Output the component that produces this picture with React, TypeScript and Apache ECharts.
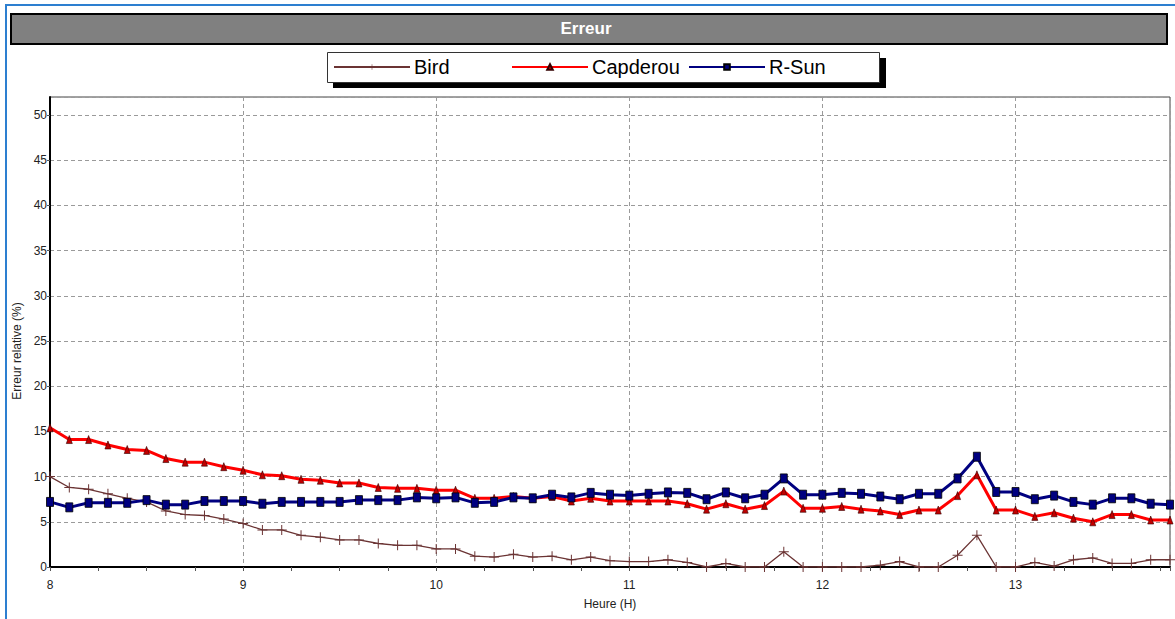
import React, { useEffect, useRef } from "react";
import * as echarts from "echarts";

const hours = [
  8.0, 8.1, 8.2, 8.3, 8.4, 8.5, 8.6, 8.7, 8.8, 8.9,
  9.0, 9.1, 9.2, 9.3, 9.4, 9.5, 9.6, 9.7, 9.8, 9.9,
  10.0, 10.1, 10.2, 10.3, 10.4, 10.5, 10.6, 10.7, 10.8, 10.9,
  11.0, 11.1, 11.2, 11.3, 11.4, 11.5, 11.6, 11.7, 11.8, 11.9,
  12.0, 12.1, 12.2, 12.3, 12.4, 12.5, 12.6, 12.7, 12.8, 12.9,
  13.0, 13.1, 13.2, 13.3, 13.4, 13.5, 13.6, 13.7, 13.8,
];

const bird = [
  10.0, 8.8, 8.6, 8.1, 7.6, 7.2, 6.2, 5.8, 5.7, 5.3,
  4.8, 4.1, 4.1, 3.5, 3.3, 3.0, 3.0, 2.6, 2.4, 2.4,
  2.0, 2.0, 1.2, 1.1, 1.4, 1.1, 1.2, 0.8, 1.1, 0.7,
  0.6, 0.6, 0.8, 0.5, 0.0, 0.4, 0.0, 0.0, 1.7, 0.0,
  0.0, 0.0, 0.0, 0.2, 0.6, 0.0, 0.0, 1.3, 3.5, 0.0,
  0.0, 0.5, 0.1, 0.8, 1.0, 0.4, 0.4, 0.8, 0.8,
];

const capderou = [
  15.4, 14.1, 14.1, 13.5, 13.0, 12.9, 12.0, 11.6, 11.6, 11.1,
  10.7, 10.2, 10.1, 9.7, 9.6, 9.3, 9.3, 8.8, 8.7, 8.7,
  8.5, 8.5, 7.6, 7.6, 7.8, 7.6, 7.8, 7.3, 7.6, 7.3,
  7.3, 7.3, 7.3, 7.0, 6.4, 7.0, 6.4, 6.8, 8.4, 6.5,
  6.5, 6.7, 6.4, 6.2, 5.8, 6.3, 6.3, 7.9, 10.2, 6.3,
  6.3, 5.6, 6.0, 5.4, 5.0, 5.8, 5.8, 5.2, 5.2,
];

const rsun = [
  7.2, 6.6, 7.1, 7.1, 7.1, 7.4, 6.9, 6.9, 7.3, 7.3,
  7.3, 7.0, 7.2, 7.2, 7.2, 7.2, 7.4, 7.4, 7.4, 7.7,
  7.6, 7.7, 7.1, 7.2, 7.7, 7.6, 8.0, 7.7, 8.2, 8.0,
  7.9, 8.1, 8.25, 8.2, 7.5, 8.25, 7.6, 8.0, 9.8, 8.0,
  8.0, 8.2, 8.1, 7.8, 7.5, 8.1, 8.1, 9.8, 12.2, 8.3,
  8.3, 7.5, 7.9, 7.2, 6.9, 7.6, 7.6, 7.0, 6.9,
];

const seriesNames = ["Bird", "Capderou", "R-Sun"];
const titleText = "Erreur";
const xAxisName = "Heure (H)";
const yAxisName = "Erreur relative (%)";

const FONT = "'Liberation Sans', Arial, sans-serif";
const PLUS =
  "path://M4.5,0 L5.5,0 L5.5,4.5 L10,4.5 L10,5.5 L5.5,5.5 L5.5,10 L4.5,10 L4.5,5.5 L0,5.5 L0,4.5 L4.5,4.5 Z";

function pair(ys: number[]) {
  return hours.map((h, i) => [h, ys[i]]);
}

export default function App() {
  const ref = useRef<HTMLDivElement>(null);

  useEffect(() => {
    if (!ref.current) return;
    const chart = echarts.init(ref.current, null, { renderer: "svg" });

    const legendCommon = {
      top: 57,
      padding: 0,
      itemWidth: 76,
      itemHeight: 7,
      itemGap: 0,
      selectedMode: false,
      textStyle: { fontSize: 20, color: "#000", fontFamily: FONT, lineHeight: 20, padding: [0, 0, 0, -1] },
    };

    chart.setOption({
      animation: false,
      backgroundColor: "#fff",
      title: {
        text: titleText,
        left: 586,
        textAlign: "center",
        top: 20,
        padding: 0,
        textStyle: { color: "#fff", fontSize: 17, fontWeight: "bold", fontFamily: FONT },
      },
      graphic: [
        {
          type: "rect",
          shape: { x: 6, y: 5, width: 1300, height: 800 },
          style: { fill: "none", stroke: "#2d7fd0", lineWidth: 2 },
          z: 0,
        },
        {
          type: "rect",
          shape: { x: 11, y: 14, width: 1156, height: 30 },
          style: { fill: "#808080", stroke: "#000", lineWidth: 2 },
          z: 0,
        },
        {
          type: "rect",
          shape: { x: 333, y: 58, width: 553, height: 30 },
          style: { fill: "#000" },
          z: 0,
        },
        {
          type: "rect",
          shape: { x: 327.5, y: 52.5, width: 552, height: 30 },
          style: { fill: "#fff", stroke: "#333", lineWidth: 1 },
          z: 0,
        },
      ],
      legend: [
        { ...legendCommon, left: 333, data: ["Bird"] },
        { ...legendCommon, left: 511, data: ["Capderou"] },
        { ...legendCommon, left: 688, data: ["R-Sun"] },
      ],
      grid: {
        left: 50,
        right: 5,
        top: 97,
        bottom: 52,
        show: true,
        borderColor: "#444",
        borderWidth: 1,
        backgroundColor: "transparent",
      },
      xAxis: {
        type: "value",
        min: 8,
        max: 13.8,
        interval: 1,
        name: xAxisName,
        nameLocation: "middle",
        nameGap: 31,
        nameTextStyle: { fontSize: 12, color: "#222", fontFamily: FONT },
        axisLine: { show: true, onZero: false, lineStyle: { color: "#000", width: 2 } },
        axisTick: { show: true, length: 4, lineStyle: { color: "#555" } },
        minorTick: { show: true, splitNumber: 4, length: 4, lineStyle: { color: "#555" } },
        axisLabel: {
          fontSize: 12,
          color: "#222",
          fontFamily: FONT,
          margin: 12,
          showMaxLabel: false,
          formatter: (v: number) => (Math.abs(v - Math.round(v)) < 1e-6 ? String(Math.round(v)) : ""),
        },
        splitLine: { show: true, lineStyle: { color: "#9a9a9a", type: [4, 3], width: 1 } },
      },
      yAxis: {
        type: "value",
        min: 0,
        max: 52,
        interval: 5,
        name: yAxisName,
        nameLocation: "middle",
        nameGap: 21,
        nameTextStyle: { fontSize: 12, color: "#222", fontFamily: FONT, padding: [0, 38, 0, 0] },
        axisLine: { show: true, lineStyle: { color: "#000", width: 2 } },
        axisTick: { show: true, length: 3, lineStyle: { color: "#555" } },
        axisLabel: {
          fontSize: 12,
          color: "#222",
          fontFamily: FONT,
          margin: 3,
          showMaxLabel: false,
          formatter: (v: number) => (v % 5 === 0 ? String(v) : ""),
        },
        splitLine: { show: true, lineStyle: { color: "#9a9a9a", type: [4, 3], width: 1 } },
      },
      series: [
        {
          name: seriesNames[0],
          type: "line",
          data: pair(bird),
          symbol: PLUS,
          symbolSize: 10,
          showAllSymbol: true,
          lineStyle: { color: "#6b3434", width: 1.3 },
          itemStyle: { color: "#6b3434" },
          z: 2,
        },
        {
          name: seriesNames[1],
          type: "line",
          data: pair(capderou),
          symbol: "triangle",
          symbolSize: [6, 8],
          showAllSymbol: true,
          lineStyle: { color: "#ff0000", width: 3 },
          itemStyle: { color: "#c00000", borderColor: "#300", borderWidth: 0.6 },
          z: 3,
        },
        {
          name: seriesNames[2],
          type: "line",
          data: pair(rsun),
          symbol: "rect",
          symbolSize: [7, 9],
          showAllSymbol: true,
          lineStyle: { color: "#000080", width: 3 },
          itemStyle: { color: "#000080", borderColor: "#000", borderWidth: 0.8 },
          z: 4,
        },
      ],
    });

    return () => chart.dispose();
  }, []);

  return (
    <div
      ref={ref}
      style={{ position: "absolute", left: 0, top: 0, width: 1175, height: 619 }}
    />
  );
}
